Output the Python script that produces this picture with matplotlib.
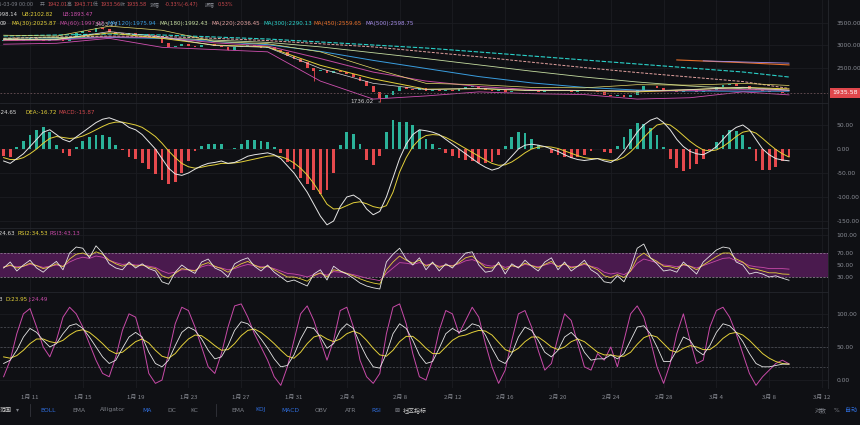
import matplotlib
matplotlib.use("Agg")
import matplotlib.pyplot as plt

plt.rcParams['font.family'] = ['DejaVu Sans', 'Noto Sans CJK SC']

W, H = 860, 425
PLOT_W = 828
BG = '#0f1014'
GRID = '#1b1d22'
TXT = '#8a8d95'
UP = '#2bb39a'
DOWN = '#e5494d'

# ---- data (12h steps starting 1/9, day numbers counted from Jan 0) ----
start_day = 9.0
step = 0.5

close = [3120, 3150, 3100, 3130, 3160, 3120, 3090, 3110, 3140, 3100,
         3180, 3260, 3320, 3290, 3380, 3350, 3300, 3260, 3240, 3270,
         3230, 3250, 3220, 3200, 3050, 2960, 2990, 3020, 2980, 2950,
         3000, 3030, 2980, 2960, 2900, 2950, 2980, 3000, 2970, 2940,
         2950, 2900, 2850, 2760, 2700, 2620, 2500, 2420, 2450, 2380,
         2430, 2400, 2360, 2300, 2200, 2080, 1950, 1830, 1900, 1980,
         2060, 2030, 2000, 2050, 1990, 2010, 1970, 2000, 1980, 2020,
         2060, 2090, 2040, 2000, 1980, 2010, 1960, 1990, 1970, 2000,
         1980, 1960, 1990, 2010, 1970, 1990, 1960, 1980, 2000, 1970,
         1950, 1900, 1870, 1880, 1850, 1900, 2000, 2100, 2080, 2050,
         2000, 1980, 1960, 1990, 1970, 1950, 1980, 2010, 2060, 2110,
         2140, 2100, 2080, 2030, 2000, 1980, 1960, 1950, 1942, 1935.58]
first_open = 3100
wick_days = [16.5, 26.0, 32.5, 37.5]
wick_prices = [3403.27, 2880, 2200, 1736.02]
last_price = 1935.58

ma_days = [9, 13, 17, 21, 25, 29, 33, 37, 41, 45, 49, 53, 57, 61, 65, 68.5]
ma30 = [3120, 3130, 3270, 3150, 3000, 2960, 2550, 2250, 2020, 2030, 1990, 1990, 1960, 2010, 2060, 2025.87]
ma60 = [3100, 3110, 3180, 3170, 3050, 2980, 2700, 2400, 2200, 2080, 2010, 1990, 1970, 1990, 2010, 1997.07]
ma120 = [3120, 3140, 3170, 3150, 3080, 3010, 2860, 2660, 2480, 2300, 2160, 2060, 2000, 1980, 1975, 1975.94]
ma180 = [3150, 3170, 3180, 3160, 3110, 3060, 2960, 2830, 2700, 2560, 2420, 2290, 2180, 2090, 2030, 1992.43]
ma220 = [3150, 3180, 3200, 3190, 3150, 3100, 3030, 2960, 2850, 2740, 2620, 2500, 2390, 2290, 2190, 2036.45]
ma300 = [3202, 3224, 3246, 3224, 3180, 3135, 3069, 3002, 2935, 2847, 2758, 2669, 2580, 2491, 2402, 2290.13]
boll_mb = [3120, 3120, 3300, 3180, 2990, 2950, 2480, 2150, 2010, 2040, 1990, 1990, 1980, 2010, 2060, 1998.14]
boll_ub = [3220, 3200, 3420, 3330, 3080, 3030, 2850, 2480, 2150, 2120, 2060, 2050, 2120, 2110, 2150, 2102.82]
boll_lb = [3020, 3040, 3150, 2950, 2900, 2850, 2200, 1800, 1870, 1960, 1920, 1900, 1800, 1830, 1960, 1893.47]
ma450_days = [60, 65, 68.5]
ma450 = [2670, 2610, 2559.65]
ma500_days = [62, 65, 68.5]
ma500 = [2650, 2625, 2598.75]

dif = [-25, -30, -20, -10, 5, 20, 35, 40, 30, 20,
       15, 25, 35, 45, 55, 62, 65, 60, 55, 45,
       40, 30, 15, 0, -20, -40, -52, -55, -50, -42,
       -35, -30, -28, -25, -30, -28, -22, -15, -12, -10,
       -8, -12, -20, -35, -50, -70, -90, -115, -140, -158,
       -150, -120, -100, -96, -105, -125, -137, -130, -100, -60,
       -20, 10, 30, 40, 38, 35, 30, 20, 10, 0,
       -10, -20, -30, -38, -44, -40, -30, -15, 0, 8,
       10, 8, 5, 0, -5, -12, -18, -22, -24, -22,
       -20, -25, -28, -20, -5, 15, 35, 50, 60, 65,
       55, 40, 20, 5, -5, -10, -12, -5, 5, 20,
       35, 45, 50, 40, 20, 0, -12, -20, -23, -24.65]
dea = [-18, -22, -22, -18, -10, 0, 12, 22, 26, 24,
       22, 23, 27, 33, 40, 47, 53, 56, 56, 53,
       50, 45, 36, 26, 12, -4, -18, -30, -37, -40,
       -38, -35, -33, -30, -30, -29, -27, -24, -21, -18,
       -15, -14, -16, -21, -29, -40, -54, -72, -93, -115,
       -125, -124, -118, -112, -110, -114, -120, -123, -118, -90,
       -48, -18, 5, 20, 28, 30, 29, 24, 17, 9,
       1, -7, -15, -23, -30, -34, -33, -27, -18, -8,
       0, 4, 5, 4, 1, -4, -9, -14, -18, -20,
       -20, -22, -24, -23, -17, -6, 8, 24, 38, 50,
       53, 50, 40, 28, 16, 6, -2, -4, -2, 5,
       15, 26, 35, 38, 33, 22, 10, -1, -10, -16.72]
macd_hist = [-14, -16, 4, 16, 30, 40, 46, 36, 8, -8,
             -14, 4, 16, 24, 30, 30, 24, 8, -2, -16,
             -20, -30, -42, -52, -64, -72, -68, -50, -26, -4,
             6, 10, 10, 10, 0, 2, 10, 18, 18, 16,
             14, 4, -8, -28, -42, -60, -72, -86, -94, -86,
             -50, 8, 36, 32, 10, -22, -34, -14, 36, 60,
             56, 56, 50, 40, 20, 10, 2, -8, -14, -18,
             -22, -26, -30, -30, -28, -12, 6, 24, 36, 34,
             20, 8, 0, -8, -12, -16, -18, -16, -12, -4,
             0, -6, -8, 6, 24, 42, 54, 52, 44, 30,
             4, -20, -40, -46, -42, -32, -20, -2, 14, 30,
             40, 38, 30, 4, -26, -44, -44, -38, -26, -15.87]

rsi1 = [45, 55, 40, 50, 58, 45, 38, 48, 56, 42,
        70, 80, 78, 62, 82, 70, 52, 45, 42, 55,
        45, 52, 44, 40, 22, 18, 38, 50, 42, 36,
        55, 60, 45, 40, 30, 52, 58, 62, 48, 40,
        50, 38, 30, 22, 25, 20, 15, 35, 42, 25,
        48, 40, 35, 28, 20, 15, 12, 10, 55, 68,
        78, 60, 50, 62, 42, 55, 40, 52, 45, 58,
        70, 72, 50, 38, 40, 55, 35, 52, 45, 58,
        48, 40, 55, 62, 42, 55, 40, 48, 58, 42,
        35, 22, 20, 32, 22, 45, 78, 85, 62, 52,
        40, 42, 38, 55, 45, 35, 55, 65, 75, 80,
        78, 55, 50, 35, 38, 35, 30, 32, 28, 24.63]
rsi2 = [46, 50, 45, 48, 53, 49, 44, 47, 52, 47,
        60, 68, 70, 65, 72, 68, 58, 52, 48, 52,
        48, 50, 46, 44, 32, 28, 36, 44, 42, 40,
        50, 54, 48, 44, 38, 46, 52, 56, 50, 45,
        48, 42, 36, 30, 30, 27, 23, 32, 37, 30,
        42, 40, 36, 32, 27, 23, 20, 18, 42, 55,
        65, 58, 53, 58, 48, 53, 46, 50, 48, 54,
        62, 65, 55, 46, 45, 52, 42, 49, 46, 53,
        49, 45, 51, 56, 47, 52, 45, 48, 53, 47,
        42, 32, 29, 34, 29, 40, 62, 70, 62, 56,
        48, 47, 44, 51, 48, 42, 50, 57, 64, 70,
        70, 60, 55, 45, 43, 40, 37, 37, 35, 34.53]
rsi3 = [47, 49, 47, 48, 51, 49, 46, 48, 50, 48,
        55, 60, 63, 61, 65, 63, 58, 54, 51, 52,
        50, 50, 48, 46, 40, 36, 38, 42, 42, 41,
        47, 50, 47, 45, 42, 44, 48, 51, 49, 47,
        47, 44, 40, 36, 35, 33, 30, 34, 36, 33,
        39, 38, 36, 34, 31, 28, 26, 24, 36, 45,
        54, 53, 51, 54, 50, 52, 48, 50, 49, 52,
        57, 59, 55, 50, 48, 51, 46, 49, 47, 51,
        49, 47, 50, 53, 48, 51, 47, 48, 51, 48,
        45, 38, 35, 37, 34, 40, 53, 60, 57, 54,
        50, 49, 47, 50, 48, 45, 49, 53, 57, 61,
        62, 57, 54, 49, 47, 46, 44, 44, 44, 43.13]

kdj_k = [25, 30, 45, 65, 78, 72, 60, 50, 55, 70,
         82, 85, 78, 65, 50, 35, 25, 30, 48, 65,
         72, 65, 42, 25, 20, 30, 52, 72, 80, 75,
         62, 45, 32, 35, 52, 75, 88, 85, 75, 62,
         48, 32, 20, 22, 38, 62, 80, 78, 65, 48,
         55, 75, 85, 78, 55, 35, 20, 18, 40, 70,
         85, 78, 60, 38, 25, 28, 48, 70, 78, 72,
         76, 85, 82, 68, 48, 30, 25, 40, 65, 80,
         75, 60, 42, 35, 45, 65, 72, 62, 42, 30,
         32, 32, 38, 32, 40, 60, 80, 82, 70, 50,
         28, 28, 45, 65, 60, 45, 38, 52, 72, 85,
         82, 72, 58, 40, 25, 20, 20, 22, 24, 24.13]
kdj_d = [35, 33, 37, 45, 55, 62, 62, 58, 56, 60,
         68, 74, 76, 72, 64, 55, 45, 40, 42, 50,
         58, 62, 56, 45, 36, 33, 40, 52, 62, 68,
         67, 60, 52, 45, 46, 55, 67, 75, 77, 72,
         64, 55, 45, 36, 33, 42, 55, 65, 68, 62,
         58, 62, 70, 74, 70, 60, 48, 38, 36, 45,
         58, 66, 66, 58, 48, 40, 40, 50, 60, 66,
         68, 72, 75, 74, 68, 57, 46, 42, 48, 58,
         65, 65, 58, 50, 46, 50, 58, 62, 58, 50,
         42, 38, 38, 36, 36, 42, 54, 64, 68, 65,
         55, 45, 42, 48, 52, 50, 46, 46, 53, 63,
         70, 72, 68, 60, 50, 40, 33, 28, 25, 23.95]
kdj_j = [5, 30, 70, 100, 108, 80, 50, 35, 60, 95,
         110, 100, 80, 55, 30, 10, 5, 35, 75, 100,
         95, 60, 10, -5, 0, 40, 85, 110, 105, 80,
         50, 20, 10, 40, 80, 112, 115, 95, 70, 50,
         30, 5, -8, 20, 60, 100, 112, 90, 60, 30,
         60, 105, 110, 80, 30, 5, -5, 10, 70, 110,
         115, 85, 40, 5, 0, 30, 75, 105, 100, 70,
         90, 110, 95, 55, 20, -5, 15, 60, 100, 105,
         80, 45, 15, 25, 65, 100, 90, 55, 20, 15,
         40, 30, 50, 20, 60, 100, 112, 95, 60, 20,
         -5, 25, 70, 100, 60, 25, 30, 80, 105, 110,
         95, 70, 40, 10, -8, 5, 15, 25, 30, 24.49]

tick_days = [11, 15, 19, 23, 27, 31, 35, 39, 43, 47, 51, 55, 59, 63, 67, 71]
tick_labels = ['1月 11', '1月 15', '1月 19', '1月 23', '1月 27', '1月 31', '2月 4', '2月 8',
               '2月 12', '2月 16', '2月 20', '2月 24', '2月 28', '3月 4', '3月 8', '3月 12']

days = [start_day + step * i for i in range(len(close))]

# ---- figure ----
fig = plt.figure(figsize=(W / 100, H / 100), dpi=100, facecolor=BG)
xmin = 8.727
xmax = xmin + PLOT_W / 13.2


def panel(top, bottom, ylo, yhi):
    ax = fig.add_axes([0, 1 - bottom / H, PLOT_W / W, (bottom - top) / H])
    ax.set_facecolor(BG)
    ax.set_xlim(xmin, xmax)
    ax.set_ylim(ylo, yhi)
    for s in ['left', 'bottom']:
        ax.spines[s].set_visible(False)
    ax.spines['top'].set_color('#24262c')
    ax.spines['top'].set_linewidth(0.6)
    ax.spines['right'].set_color('#26282e')
    ax.spines['right'].set_linewidth(0.6)
    ax.yaxis.tick_right()
    ax.tick_params(axis='y', length=0, pad=6, labelsize=4.3, labelcolor=TXT)
    ax.tick_params(axis='x', length=0, labelbottom=False)
    ax.set_xticks(tick_days)
    ax.grid(True, color=GRID, linewidth=0.6)
    ax.set_axisbelow(True)
    return ax


ax_p = panel(0, 103, 1713, 4002)
ax_m = panel(103, 228, -164.6, 95.8)
ax_r = panel(228, 292, 5, 111.7)
ax_k = panel(292, 388, -12, 133)
ax_p.spines['top'].set_visible(False)

# price panel
ax_p.set_yticks([2500, 3000, 3500])
ax_p.set_yticklabels(['2500.00', '3000.00', '3500.00'])
for i, c in enumerate(close):
    o = close[i - 1] if i > 0 else first_open
    col = UP if c >= o else DOWN
    lo, hi = min(o, c), max(o, c)
    ax_p.bar(days[i], max(hi - lo, 6), bottom=lo, width=0.22, color=col, linewidth=0)
for d, p in zip(wick_days, wick_prices):
    i = days.index(d)
    o = close[i - 1]
    col = UP if close[i] >= o else DOWN
    ax_p.vlines(d, min(o, close[i], p), max(o, close[i], p), color=col, linewidth=0.6)

ax_p.plot(ma_days, ma300, color='#2ad1c9', lw=0.8, dashes=(4, 1.5))
ax_p.plot(ma_days, ma220, color='#e3a2a0', lw=0.7, dashes=(3, 1.5))
ax_p.plot(ma_days, ma180, color='#c5dca0', lw=0.6)
ax_p.plot(ma_days, ma120, color='#3a9ee0', lw=0.7)
ax_p.plot(ma_days, ma60, color='#c24aa0', lw=0.7)
ax_p.plot(ma_days, ma30, color='#e3d03a', lw=0.7)
ax_p.plot(ma_days, boll_ub, color='#e8dc6a', lw=0.5)
ax_p.plot(ma_days, boll_mb, color='#d8d8d8', lw=0.5)
ax_p.plot(ma_days, boll_lb, color='#d050b0', lw=0.6)
ax_p.plot(ma450_days, ma450, color='#e8702a', lw=0.8)
ax_p.plot(ma500_days, ma500, color='#a58de8', lw=0.6)
ax_p.axhline(last_price, color='#6b5258', lw=0.6, dashes=(2, 2))
ax_p.annotate('%.2f' % last_price, xy=(1.0, last_price), xycoords=('axes fraction', 'data'),
              xytext=(3, 0), textcoords='offset points', ha='left', va='center',
              fontsize=4.5, color='white',
              bbox=dict(boxstyle='square,pad=0.35', fc='#e0474c', ec='none'))
ax_p.text(15.9, 3403.27, '3403.27', fontsize=4.1, color='#d0d0d0', ha='left', va='bottom')
ax_p.annotate('1736.02', xy=(37.5, 1736.02), xytext=(37.0, 1736.02), fontsize=4.1,
              color='#d0d0d0', ha='right', va='center',
              arrowprops=dict(arrowstyle='-', color='#d0d0d0', lw=0.5))

# MACD panel
ax_m.set_yticks([50, 0, -50, -100, -150])
ax_m.set_yticklabels(['50.00', '0.00', '-50.00', '-100.00', '-150.00'])
hist_cols = [UP if v >= 0 else DOWN for v in macd_hist]
ax_m.bar(days, macd_hist, width=0.22, color=hist_cols, linewidth=0)
ax_m.plot(days, dea, color='#e3d03a', lw=0.7)
ax_m.plot(days, dif, color='#e6e6e6', lw=0.7)

# RSI panel
ax_r.set_yticks([100, 70, 50, 30])
ax_r.set_yticklabels(['100.00', '70.00', '50.00', '30.00'])
ax_r.axhspan(30, 70, color='#4a1a4e', lw=0)
for lv in [70, 30]:
    ax_r.axhline(lv, color='#9a8a9c', lw=0.5, dashes=(3, 2))
ax_r.plot(days, rsi3, color='#c84aa8', lw=0.6)
ax_r.plot(days, rsi2, color='#e3d03a', lw=0.6)
ax_r.plot(days, rsi1, color='#e6e6e6', lw=0.6)

# KDJ panel
ax_k.set_yticks([100, 50, 0])
ax_k.set_yticklabels(['100.00', '50.00', '0.00'])
for lv in [80, 50, 20]:
    ax_k.axhline(lv, color='#55575e', lw=0.5, dashes=(3, 2))
ax_k.plot(days, kdj_j, color='#c84aa8', lw=0.7)
ax_k.plot(days, kdj_d, color='#e3d03a', lw=0.7)
ax_k.plot(days, kdj_k, color='#e6e6e6', lw=0.6)
ax_k.tick_params(axis='x', labelbottom=True, pad=5, labelsize=4.3, labelcolor=TXT)
ax_k.set_xticklabels(tick_labels)
for lab in ax_k.get_xticklabels():
    lab.set_family(['Noto Sans CJK SC', 'DejaVu Sans'])


# ---- header / legend texts ----
def htxt(x, y, s, c, ha='left', size=4.1):
    fig.text(x / W, 1 - y / H, s, color=c, fontsize=size, ha=ha, va='center')


RED = '#c9484d'
LAB = '#7d8088'
y1 = 4.5
htxt(33, y1, '2025-03-09 00:00', LAB, ha='right', size=3.5)
for x, s, c in [(40, '开', LAB), (47, '1942.01', RED), (67, '高', LAB), (73, '1943.71', RED),
                (93, '低', LAB), (100, '1933.56', RED), (120, '收', LAB), (126, '1935.58', RED),
                (150, '涨幅', LAB), (165, '-0.33%(-6.47)', RED), (205, '振幅', LAB), (218, '0.53%', RED)]:
    htxt(x, y1, s, c, size=3.5)
y2 = 14
htxt(18, y2, 'MB:1998.14', '#d8d8d8', ha='right', size=3.9)
htxt(21, y2, 'UB:2102.82', '#e3d03a', size=3.9)
htxt(62, y2, 'LB:1893.47', '#d050b0', size=3.9)
y3 = 23.5
htxt(0, y3, '09', '#d8d8d8')
for x, s, c in [(11, 'MA(30):2025.87', '#e3d03a'), (59, 'MA(60):1997.07', '#c24aa0'),
                (107, 'MA(120):1975.94', '#3a9ee0'), (159, 'MA(180):1992.43', '#c5dca0'),
                (211, 'MA(220):2036.45', '#e3a2a0'), (263, 'MA(300):2290.13', '#2ad1c9'),
                (314, 'MA(450):2559.65', '#e8702a'), (366, 'MA(500):2598.75', '#a58de8')]:
    htxt(x, y3, s, c)

htxt(17, 113, 'DIF:-24.65', '#d8d8d8', ha='right')
htxt(25, 113, 'DEA:-16.72', '#e3d03a')
htxt(58, 113, 'MACD:-15.87', '#d0474c')
htxt(15, 233.5, 'RSI1:24.63', '#d8d8d8', ha='right')
htxt(18, 233.5, 'RSI2:34.53', '#e3d03a')
htxt(50, 233.5, 'RSI3:43.13', '#c84aa8')
htxt(3, 299.5, 'K:24.13', '#d8d8d8', ha='right')
htxt(5, 299.5, 'D:23.95', '#e3d03a')
htxt(28, 299.5, 'J:24.49', '#c84aa8')

# ---- bottom toolbar ----
BLUE = '#2f6fe0'
yt = 410
for x, s, c in [(0, '范围', '#d0d0d0'), (16, '▾', LAB),
                (40, 'BOLL', BLUE), (72, 'EMA', LAB), (100, 'Alligator', LAB), (142, 'MA', BLUE),
                (167, 'DC', LAB), (190, 'KC', LAB), (231, 'EMA', LAB), (255, 'KDJ', BLUE),
                (281, 'MACD', BLUE), (315, 'OBV', LAB), (345, 'ATR', LAB), (371, 'RSI', BLUE),
                (394, '⊠', LAB), (403, '社区指标', '#d0d0d0'),
                (815, '对数', LAB), (834, '%', LAB), (845, '自动', BLUE)]:
    htxt(x, yt, s, c, size=4.3)
for x in [30, 216]:
    fig.add_artist(plt.Line2D([x / W, x / W], [1 - 404 / H, 1 - 416 / H], color='#33353c', lw=0.6))

fig.savefig('out.png', dpi=100, facecolor=BG)
